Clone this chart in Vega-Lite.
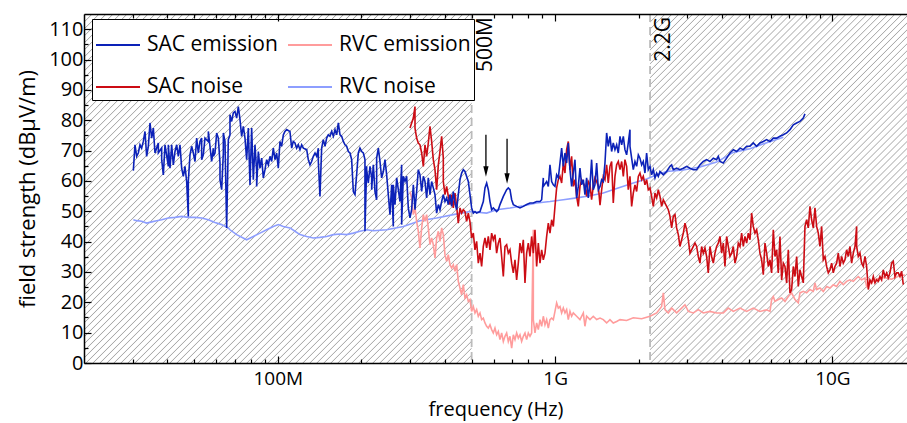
{
"$schema":"https://vega.github.io/schema/vega-lite/v6.json",
"width":823,"height":349,
"autosize":{"type":"none"},
"padding":{"left":84,"top":14,"right":0,"bottom":60},
"background":"white",
"config":{"view":{"stroke":null},"font":"Open Sans","axis":{"labelFont":"Open Sans","titleFont":"Open Sans"},"legend":{"labelFont":"Open Sans"},"text":{"font":"Open Sans"}},
"datasets":{
"regions":[{"name":"low","f1":2e7,"f2":5e8,"v1":0,"v2":115},{"name":"high","f1":2.2e9,"f2":1.858e10,"v1":0,"v2":115}],
"bounds":[{"f":5e8,"label":"500M"},{"f":2.2e9,"label":"2.2G"}],
"arrows":[{"f":5.63e8,"top":75.2,"bot":64.6,"tip":61.4},{"f":6.71e8,"top":73.9,"bot":62.4,"tip":59.1}],
"sacEm":[{"f":3.013e7,"v":63.4},{"f":3.054e7,"v":71.9},{"f":3.097e7,"v":68.1},{"f":3.140e7,"v":69.2},{"f":3.184e7,"v":71.9},{"f":3.228e7,"v":70.8},{"f":3.273e7,"v":73.0},{"f":3.319e7,"v":76.3},{"f":3.365e7,"v":68.1},{"f":3.412e7,"v":71.4},{"f":3.460e7,"v":79.1},{"f":3.508e7,"v":74.1},{"f":3.557e7,"v":77.4},{"f":3.606e7,"v":69.2},{"f":3.708e7,"v":72.5},{"f":3.708e7,"v":69.2},{"f":3.812e7,"v":70.8},{"f":3.812e7,"v":67.0},{"f":3.865e7,"v":62.0},{"f":3.919e7,"v":71.9},{"f":4.029e7,"v":64.8},{"f":4.029e7,"v":71.9},{"f":4.085e7,"v":64.2},{"f":4.142e7,"v":71.9},{"f":4.199e7,"v":65.3},{"f":4.258e7,"v":69.7},{"f":4.317e7,"v":71.9},{"f":4.377e7,"v":68.1},{"f":4.438e7,"v":71.9},{"f":4.500e7,"v":64.2},{"f":4.563e7,"v":61.5},{"f":4.626e7,"v":64.8},{"f":4.691e7,"v":59.8},{"f":4.756e7,"v":48.3},{"f":4.756e7,"v":59.8},{"f":4.823e7,"v":68.6},{"f":4.890e7,"v":71.4},{"f":4.958e7,"v":69.2},{"f":5.027e7,"v":66.4},{"f":5.097e7,"v":74.1},{"f":5.168e7,"v":69.2},{"f":5.240e7,"v":73.0},{"f":5.313e7,"v":74.1},{"f":5.313e7,"v":67.0},{"f":5.387e7,"v":68.6},{"f":5.462e7,"v":74.1},{"f":5.616e7,"v":73.0},{"f":5.616e7,"v":76.3},{"f":5.773e7,"v":66.4},{"f":5.854e7,"v":70.8},{"f":5.854e7,"v":68.1},{"f":5.935e7,"v":69.2},{"f":6.018e7,"v":75.8},{"f":6.102e7,"v":74.1},{"f":6.187e7,"v":65.9},{"f":6.187e7,"v":60.4},{"f":6.273e7,"v":57.1},{"f":6.361e7,"v":69.2},{"f":6.361e7,"v":75.8},{"f":6.449e7,"v":73.0},{"f":6.539e7,"v":44.5},{"f":6.630e7,"v":73.6},{"f":6.722e7,"v":75.2},{"f":6.722e7,"v":81.8},{"f":6.816e7,"v":79.6},{"f":6.911e7,"v":82.4},{"f":7.007e7,"v":82.9},{"f":7.105e7,"v":80.7},{"f":7.204e7,"v":84.5},{"f":7.305e7,"v":80.2},{"f":7.406e7,"v":74.7},{"f":7.509e7,"v":78.0},{"f":7.614e7,"v":74.1},{"f":7.720e7,"v":67.0},{"f":7.828e7,"v":77.4},{"f":7.937e7,"v":58.7},{"f":8.048e7,"v":77.4},{"f":8.160e7,"v":60.4},{"f":8.273e7,"v":71.9},{"f":8.389e7,"v":63.1},{"f":8.389e7,"v":58.2},{"f":8.506e7,"v":69.7},{"f":8.624e7,"v":64.2},{"f":8.744e7,"v":67.5},{"f":8.866e7,"v":61.0},{"f":8.990e7,"v":63.7},{"f":9.115e7,"v":67.0},{"f":9.242e7,"v":65.3},{"f":9.371e7,"v":68.1},{"f":9.501e7,"v":66.4},{"f":9.634e7,"v":70.8},{"f":9.768e7,"v":67.0},{"f":9.904e7,"v":69.2},{"f":1.004e8,"v":64.2},{"f":1.018e8,"v":73.0},{"f":1.032e8,"v":71.4},{"f":1.047e8,"v":75.2},{"f":1.061e8,"v":76.3},{"f":1.076e8,"v":76.9},{"f":1.106e8,"v":76.3},{"f":1.122e8,"v":70.8},{"f":1.137e8,"v":73.0},{"f":1.153e8,"v":72.5},{"f":1.169e8,"v":70.8},{"f":1.186e8,"v":71.9},{"f":1.202e8,"v":70.3},{"f":1.219e8,"v":71.9},{"f":1.236e8,"v":70.8},{"f":1.271e8,"v":70.3},{"f":1.288e8,"v":67.0},{"f":1.306e8,"v":65.3},{"f":1.324e8,"v":66.4},{"f":1.343e8,"v":68.1},{"f":1.362e8,"v":69.2},{"f":1.381e8,"v":68.1},{"f":1.400e8,"v":70.8},{"f":1.400e8,"v":66.4},{"f":1.419e8,"v":54.9},{"f":1.439e8,"v":70.8},{"f":1.459e8,"v":73.6},{"f":1.480e8,"v":71.4},{"f":1.500e8,"v":74.1},{"f":1.521e8,"v":75.2},{"f":1.542e8,"v":74.7},{"f":1.564e8,"v":76.3},{"f":1.586e8,"v":74.7},{"f":1.608e8,"v":76.9},{"f":1.630e8,"v":75.2},{"f":1.653e8,"v":79.1},{"f":1.676e8,"v":75.2},{"f":1.699e8,"v":74.7},{"f":1.723e8,"v":73.0},{"f":1.747e8,"v":71.9},{"f":1.771e8,"v":71.4},{"f":1.796e8,"v":69.7},{"f":1.821e8,"v":69.2},{"f":1.846e8,"v":67.0},{"f":1.872e8,"v":56.5},{"f":1.898e8,"v":55.5},{"f":1.924e8,"v":62.0},{"f":1.951e8,"v":69.2},{"f":1.978e8,"v":70.8},{"f":2.006e8,"v":69.7},{"f":2.034e8,"v":69.2},{"f":2.062e8,"v":67.0},{"f":2.062e8,"v":43.4},{"f":2.091e8,"v":64.8},{"f":2.091e8,"v":63.7},{"f":2.120e8,"v":59.3},{"f":2.150e8,"v":64.8},{"f":2.180e8,"v":61.0},{"f":2.180e8,"v":57.1},{"f":2.210e8,"v":65.3},{"f":2.241e8,"v":56.5},{"f":2.272e8,"v":53.8},{"f":2.272e8,"v":67.5},{"f":2.304e8,"v":70.8},{"f":2.336e8,"v":66.4},{"f":2.368e8,"v":61.0},{"f":2.402e8,"v":63.1},{"f":2.435e8,"v":67.0},{"f":2.469e8,"v":62.0},{"f":2.503e8,"v":55.5},{"f":2.538e8,"v":48.9},{"f":2.574e8,"v":58.7},{"f":2.609e8,"v":45.0},{"f":2.609e8,"v":58.7},{"f":2.646e8,"v":52.2},{"f":2.683e8,"v":61.0},{"f":2.758e8,"v":53.2},{"f":2.796e8,"v":65.3},{"f":2.796e8,"v":45.6},{"f":2.835e8,"v":61.5},{"f":2.875e8,"v":59.8},{"f":2.915e8,"v":61.5},{"f":2.955e8,"v":51.1},{"f":2.997e8,"v":47.8},{"f":3.038e8,"v":50.5},{"f":3.081e8,"v":58.7},{"f":3.124e8,"v":50.5},{"f":3.167e8,"v":56.5},{"f":3.211e8,"v":63.7},{"f":3.256e8,"v":62.0},{"f":3.302e8,"v":56.5},{"f":3.348e8,"v":61.5},{"f":3.394e8,"v":59.8},{"f":3.441e8,"v":54.4},{"f":3.489e8,"v":61.0},{"f":3.538e8,"v":55.5},{"f":3.587e8,"v":59.8},{"f":3.637e8,"v":57.7},{"f":3.688e8,"v":55.5},{"f":3.739e8,"v":49.4},{"f":3.792e8,"v":52.2},{"f":3.844e8,"v":50.5},{"f":3.898e8,"v":53.2},{"f":3.952e8,"v":55.5},{"f":4.007e8,"v":53.2},{"f":4.063e8,"v":54.4},{"f":4.120e8,"v":52.2},{"f":4.177e8,"v":55.5},{"f":4.235e8,"v":51.6},{"f":4.294e8,"v":56.5},{"f":4.354e8,"v":52.7},{"f":4.415e8,"v":50.5},{"f":4.476e8,"v":55.5},{"f":4.539e8,"v":60.4},{"f":4.602e8,"v":62.6},{"f":4.666e8,"v":63.7},{"f":4.731e8,"v":63.1},{"f":4.864e8,"v":59.8},{"f":4.932e8,"v":55.5},{"f":5.000e8,"v":51.1},{"f":5.070e8,"v":49.4},{"f":5.141e8,"v":49.9},{"f":5.212e8,"v":49.4},{"f":5.359e8,"v":49.9},{"f":5.509e8,"v":53.2},{"f":5.586e8,"v":57.7},{"f":5.664e8,"v":59.3},{"f":5.743e8,"v":57.1},{"f":5.823e8,"v":53.2},{"f":5.904e8,"v":50.5},{"f":5.986e8,"v":51.1},{"f":6.154e8,"v":49.9},{"f":6.240e8,"v":50.5},{"f":6.327e8,"v":52.2},{"f":6.505e8,"v":54.9},{"f":6.687e8,"v":57.1},{"f":6.780e8,"v":57.7},{"f":6.875e8,"v":57.1},{"f":6.971e8,"v":53.8},{"f":7.068e8,"v":52.2},{"f":7.266e8,"v":51.6},{"f":7.470e8,"v":51.1},{"f":7.680e8,"v":51.6},{"f":7.895e8,"v":52.2},{"f":8.117e8,"v":52.7},{"f":8.345e8,"v":52.7},{"f":8.579e8,"v":53.2},{"f":8.820e8,"v":53.2},{"f":8.943e8,"v":53.8},{"f":9.067e8,"v":61.0},{"f":9.067e8,"v":58.2},{"f":9.322e8,"v":59.8},{"f":9.452e8,"v":58.2},{"f":9.583e8,"v":65.3},{"f":9.717e8,"v":59.8},{"f":9.852e8,"v":58.7},{"f":9.989e8,"v":58.2},{"f":1.0128e9,"v":62.0},{"f":1.0270e9,"v":61.0},{"f":1.0413e9,"v":65.9},{"f":1.0558e9,"v":70.8},{"f":1.0705e9,"v":64.8},{"f":1.0854e9,"v":69.2},{"f":1.1005e9,"v":65.9},{"f":1.1158e9,"v":72.5},{"f":1.1314e9,"v":63.7},{"f":1.1471e9,"v":58.2},{"f":1.1631e9,"v":62.6},{"f":1.1793e9,"v":67.0},{"f":1.1958e9,"v":54.4},{"f":1.2124e9,"v":58.2},{"f":1.2293e9,"v":64.2},{"f":1.2465e9,"v":58.7},{"f":1.264e9,"v":60.4},{"f":1.281e9,"v":55.5},{"f":1.299e9,"v":61.0},{"f":1.317e9,"v":54.4},{"f":1.336e9,"v":58.7},{"f":1.354e9,"v":67.0},{"f":1.373e9,"v":57.1},{"f":1.392e9,"v":58.7},{"f":1.412e9,"v":65.9},{"f":1.432e9,"v":57.1},{"f":1.452e9,"v":58.2},{"f":1.472e9,"v":60.4},{"f":1.492e9,"v":59.8},{"f":1.513e9,"v":65.9},{"f":1.534e9,"v":75.8},{"f":1.555e9,"v":71.4},{"f":1.577e9,"v":74.7},{"f":1.599e9,"v":69.7},{"f":1.621e9,"v":72.5},{"f":1.644e9,"v":70.3},{"f":1.667e9,"v":71.9},{"f":1.690e9,"v":69.2},{"f":1.714e9,"v":74.7},{"f":1.738e9,"v":71.9},{"f":1.762e9,"v":74.7},{"f":1.786e9,"v":70.3},{"f":1.811e9,"v":68.6},{"f":1.836e9,"v":72.5},{"f":1.862e9,"v":76.9},{"f":1.862e9,"v":71.4},{"f":1.888e9,"v":67.5},{"f":1.914e9,"v":63.7},{"f":1.941e9,"v":66.4},{"f":1.968e9,"v":64.8},{"f":1.996e9,"v":68.6},{"f":2.023e9,"v":67.5},{"f":2.052e9,"v":65.3},{"f":2.080e9,"v":66.4},{"f":2.109e9,"v":62.6},{"f":2.138e9,"v":69.2},{"f":2.168e9,"v":63.7},{"f":2.199e9,"v":64.8},{"f":2.229e9,"v":62.0},{"f":2.260e9,"v":63.7},{"f":2.292e9,"v":61.0},{"f":2.324e9,"v":62.6},{"f":2.356e9,"v":61.5},{"f":2.389e9,"v":63.1},{"f":2.456e9,"v":62.0},{"f":2.525e9,"v":63.1},{"f":2.596e9,"v":64.8},{"f":2.632e9,"v":65.3},{"f":2.668e9,"v":63.7},{"f":2.743e9,"v":64.2},{"f":2.820e9,"v":63.7},{"f":2.900e9,"v":64.2},{"f":2.981e9,"v":64.8},{"f":3.065e9,"v":64.2},{"f":3.151e9,"v":63.7},{"f":3.239e9,"v":63.7},{"f":3.330e9,"v":65.3},{"f":3.423e9,"v":66.4},{"f":3.519e9,"v":67.0},{"f":3.618e9,"v":66.4},{"f":3.720e9,"v":67.5},{"f":3.824e9,"v":67.0},{"f":3.877e9,"v":68.1},{"f":3.932e9,"v":66.4},{"f":4.042e9,"v":65.9},{"f":4.155e9,"v":67.5},{"f":4.272e9,"v":69.2},{"f":4.392e9,"v":70.3},{"f":4.515e9,"v":69.7},{"f":4.642e9,"v":70.8},{"f":4.772e9,"v":70.3},{"f":4.906e9,"v":71.4},{"f":5.044e9,"v":71.4},{"f":5.185e9,"v":72.5},{"f":5.331e9,"v":71.4},{"f":5.480e9,"v":72.5},{"f":5.634e9,"v":73.0},{"f":5.792e9,"v":73.6},{"f":5.955e9,"v":73.0},{"f":6.122e9,"v":74.1},{"f":6.294e9,"v":74.1},{"f":6.470e9,"v":74.7},{"f":6.652e9,"v":75.2},{"f":6.839e9,"v":75.8},{"f":7.031e9,"v":76.9},{"f":7.228e9,"v":78.5},{"f":7.431e9,"v":79.1},{"f":7.639e9,"v":79.6},{"f":7.854e9,"v":80.7},{"f":7.963e9,"v":82.1}],
"rvcNo":[{"f":3.013e7,"v":47.2},{"f":3.097e7,"v":46.9},{"f":3.228e7,"v":46.7},{"f":3.365e7,"v":46.1},{"f":3.508e7,"v":46.5},{"f":3.657e7,"v":46.9},{"f":3.812e7,"v":47.2},{"f":4.029e7,"v":47.8},{"f":4.258e7,"v":48.0},{"f":4.500e7,"v":48.3},{"f":4.756e7,"v":48.0},{"f":5.027e7,"v":48.0},{"f":5.313e7,"v":47.8},{"f":5.616e7,"v":47.2},{"f":5.935e7,"v":46.3},{"f":6.273e7,"v":45.6},{"f":6.630e7,"v":44.5},{"f":6.722e7,"v":43.9},{"f":7.105e7,"v":42.3},{"f":7.720e7,"v":40.6},{"f":8.160e7,"v":41.7},{"f":8.624e7,"v":42.8},{"f":9.115e7,"v":43.9},{"f":9.634e7,"v":45.0},{"f":1.004e8,"v":45.6},{"f":1.047e8,"v":45.0},{"f":1.106e8,"v":44.5},{"f":1.153e8,"v":43.4},{"f":1.202e8,"v":42.3},{"f":1.271e8,"v":41.7},{"f":1.343e8,"v":41.2},{"f":1.419e8,"v":41.4},{"f":1.500e8,"v":41.7},{"f":1.586e8,"v":42.3},{"f":1.676e8,"v":42.5},{"f":1.771e8,"v":42.3},{"f":1.872e8,"v":42.8},{"f":1.978e8,"v":43.4},{"f":2.091e8,"v":43.9},{"f":2.210e8,"v":43.6},{"f":2.469e8,"v":43.9},{"f":2.835e8,"v":45.0},{"f":3.256e8,"v":46.9},{"f":3.739e8,"v":47.8},{"f":4.294e8,"v":48.9},{"f":4.932e8,"v":49.9},{"f":5.664e8,"v":49.4},{"f":6.154e8,"v":50.5},{"f":6.875e8,"v":51.1},{"f":7.680e8,"v":51.8},{"f":8.579e8,"v":52.7},{"f":9.583e8,"v":53.2},{"f":1.0705e9,"v":53.8},{"f":1.1958e9,"v":54.4},{"f":1.336e9,"v":55.1},{"f":1.492e9,"v":56.0},{"f":1.667e9,"v":57.5},{"f":1.914e9,"v":59.3},{"f":2.138e9,"v":60.6},{"f":2.324e9,"v":62.0},{"f":2.525e9,"v":63.1},{"f":2.900e9,"v":63.6},{"f":3.330e9,"v":64.6},{"f":3.824e9,"v":66.2},{"f":4.392e9,"v":69.4},{"f":5.044e9,"v":70.6},{"f":5.792e9,"v":72.6},{"f":6.652e9,"v":74.4}],
"sacNo":[{"f":2.997e8,"v":77.4},{"f":3.081e8,"v":80.7},{"f":3.124e8,"v":84.5},{"f":3.124e8,"v":77.4},{"f":3.167e8,"v":74.1},{"f":3.211e8,"v":72.5},{"f":3.256e8,"v":71.9},{"f":3.302e8,"v":69.2},{"f":3.348e8,"v":64.8},{"f":3.394e8,"v":71.9},{"f":3.441e8,"v":68.1},{"f":3.489e8,"v":72.5},{"f":3.538e8,"v":78.0},{"f":3.587e8,"v":73.0},{"f":3.637e8,"v":67.0},{"f":3.688e8,"v":63.7},{"f":3.739e8,"v":57.1},{"f":3.792e8,"v":65.3},{"f":3.844e8,"v":69.7},{"f":3.898e8,"v":74.7},{"f":3.952e8,"v":67.5},{"f":3.952e8,"v":59.8},{"f":4.007e8,"v":55.5},{"f":4.063e8,"v":58.2},{"f":4.120e8,"v":54.9},{"f":4.177e8,"v":52.2},{"f":4.235e8,"v":55.5},{"f":4.294e8,"v":51.1},{"f":4.354e8,"v":56.0},{"f":4.415e8,"v":51.6},{"f":4.476e8,"v":46.1},{"f":4.539e8,"v":51.1},{"f":4.602e8,"v":49.4},{"f":4.666e8,"v":50.5},{"f":4.731e8,"v":49.9},{"f":4.797e8,"v":46.7},{"f":4.864e8,"v":49.4},{"f":4.932e8,"v":46.5},{"f":5.000e8,"v":41.2},{"f":5.070e8,"v":42.8},{"f":5.141e8,"v":37.3},{"f":5.212e8,"v":40.1},{"f":5.285e8,"v":32.9},{"f":5.359e8,"v":36.2},{"f":5.433e8,"v":31.8},{"f":5.509e8,"v":38.4},{"f":5.586e8,"v":41.2},{"f":5.664e8,"v":37.9},{"f":5.743e8,"v":41.7},{"f":5.823e8,"v":37.3},{"f":5.904e8,"v":42.8},{"f":5.986e8,"v":40.6},{"f":6.069e8,"v":42.3},{"f":6.154e8,"v":36.2},{"f":6.240e8,"v":39.5},{"f":6.327e8,"v":41.2},{"f":6.415e8,"v":35.1},{"f":6.505e8,"v":28.5},{"f":6.595e8,"v":38.4},{"f":6.687e8,"v":39.0},{"f":6.780e8,"v":36.2},{"f":6.875e8,"v":37.3},{"f":6.971e8,"v":32.9},{"f":7.068e8,"v":29.7},{"f":7.166e8,"v":34.0},{"f":7.266e8,"v":27.4},{"f":7.367e8,"v":32.9},{"f":7.470e8,"v":39.5},{"f":7.574e8,"v":36.2},{"f":7.680e8,"v":40.6},{"f":7.787e8,"v":26.4},{"f":7.895e8,"v":36.2},{"f":8.005e8,"v":39.5},{"f":8.117e8,"v":35.1},{"f":8.230e8,"v":41.7},{"f":8.345e8,"v":36.2},{"f":8.461e8,"v":43.9},{"f":8.579e8,"v":31.8},{"f":8.699e8,"v":39.5},{"f":8.820e8,"v":32.9},{"f":8.943e8,"v":37.3},{"f":9.067e8,"v":34.0},{"f":9.194e8,"v":36.2},{"f":9.322e8,"v":41.7},{"f":9.452e8,"v":46.1},{"f":9.583e8,"v":42.8},{"f":9.717e8,"v":47.2},{"f":9.852e8,"v":45.0},{"f":9.989e8,"v":51.6},{"f":1.0128e9,"v":57.7},{"f":1.0270e9,"v":60.4},{"f":1.0413e9,"v":61.5},{"f":1.0558e9,"v":59.3},{"f":1.0705e9,"v":65.9},{"f":1.0854e9,"v":62.6},{"f":1.1005e9,"v":70.3},{"f":1.1158e9,"v":73.0},{"f":1.1314e9,"v":63.7},{"f":1.1471e9,"v":68.1},{"f":1.1631e9,"v":58.2},{"f":1.1793e9,"v":60.4},{"f":1.1958e9,"v":54.9},{"f":1.2124e9,"v":51.6},{"f":1.2293e9,"v":58.2},{"f":1.2465e9,"v":60.4},{"f":1.264e9,"v":59.3},{"f":1.281e9,"v":58.2},{"f":1.299e9,"v":54.9},{"f":1.317e9,"v":59.8},{"f":1.336e9,"v":58.7},{"f":1.354e9,"v":53.8},{"f":1.373e9,"v":58.2},{"f":1.392e9,"v":61.0},{"f":1.412e9,"v":59.8},{"f":1.432e9,"v":58.2},{"f":1.452e9,"v":52.0},{"f":1.472e9,"v":57.1},{"f":1.492e9,"v":61.5},{"f":1.513e9,"v":60.4},{"f":1.534e9,"v":65.3},{"f":1.555e9,"v":59.3},{"f":1.577e9,"v":64.8},{"f":1.599e9,"v":66.4},{"f":1.621e9,"v":52.7},{"f":1.644e9,"v":61.5},{"f":1.667e9,"v":65.3},{"f":1.690e9,"v":66.4},{"f":1.714e9,"v":63.7},{"f":1.738e9,"v":66.4},{"f":1.762e9,"v":61.5},{"f":1.786e9,"v":67.0},{"f":1.811e9,"v":64.8},{"f":1.836e9,"v":57.1},{"f":1.862e9,"v":61.5},{"f":1.888e9,"v":51.6},{"f":1.914e9,"v":56.0},{"f":1.941e9,"v":58.7},{"f":1.968e9,"v":56.5},{"f":1.996e9,"v":61.5},{"f":2.023e9,"v":62.6},{"f":2.052e9,"v":60.4},{"f":2.080e9,"v":61.5},{"f":2.109e9,"v":58.7},{"f":2.138e9,"v":60.4},{"f":2.168e9,"v":57.1},{"f":2.199e9,"v":57.7},{"f":2.229e9,"v":54.9},{"f":2.260e9,"v":51.6},{"f":2.292e9,"v":56.0},{"f":2.324e9,"v":54.4},{"f":2.356e9,"v":57.1},{"f":2.389e9,"v":54.9},{"f":2.422e9,"v":51.6},{"f":2.456e9,"v":53.8},{"f":2.490e9,"v":52.7},{"f":2.525e9,"v":51.6},{"f":2.560e9,"v":50.5},{"f":2.596e9,"v":48.3},{"f":2.632e9,"v":44.5},{"f":2.668e9,"v":48.3},{"f":2.706e9,"v":48.9},{"f":2.743e9,"v":44.5},{"f":2.782e9,"v":42.3},{"f":2.820e9,"v":38.4},{"f":2.860e9,"v":40.6},{"f":2.900e9,"v":42.8},{"f":2.940e9,"v":46.1},{"f":2.981e9,"v":43.9},{"f":3.023e9,"v":40.6},{"f":3.065e9,"v":36.2},{"f":3.107e9,"v":37.3},{"f":3.151e9,"v":38.4},{"f":3.195e9,"v":39.5},{"f":3.239e9,"v":38.4},{"f":3.284e9,"v":35.1},{"f":3.330e9,"v":32.9},{"f":3.376e9,"v":38.4},{"f":3.423e9,"v":36.2},{"f":3.471e9,"v":37.9},{"f":3.519e9,"v":35.1},{"f":3.568e9,"v":29.7},{"f":3.618e9,"v":38.4},{"f":3.669e9,"v":35.1},{"f":3.720e9,"v":32.9},{"f":3.772e9,"v":36.2},{"f":3.824e9,"v":38.4},{"f":3.877e9,"v":39.5},{"f":3.932e9,"v":41.7},{"f":3.986e9,"v":36.2},{"f":4.042e9,"v":39.5},{"f":4.098e9,"v":31.8},{"f":4.155e9,"v":41.7},{"f":4.213e9,"v":38.4},{"f":4.272e9,"v":35.1},{"f":4.331e9,"v":36.2},{"f":4.392e9,"v":38.4},{"f":4.453e9,"v":32.9},{"f":4.515e9,"v":35.1},{"f":4.578e9,"v":39.5},{"f":4.642e9,"v":38.4},{"f":4.706e9,"v":42.8},{"f":4.772e9,"v":38.4},{"f":4.838e9,"v":41.7},{"f":4.906e9,"v":39.5},{"f":4.974e9,"v":42.8},{"f":5.044e9,"v":40.6},{"f":5.114e9,"v":49.4},{"f":5.185e9,"v":45.0},{"f":5.257e9,"v":42.8},{"f":5.331e9,"v":43.9},{"f":5.405e9,"v":40.6},{"f":5.480e9,"v":36.2},{"f":5.557e9,"v":34.0},{"f":5.634e9,"v":29.1},{"f":5.713e9,"v":39.5},{"f":5.792e9,"v":36.2},{"f":5.873e9,"v":31.8},{"f":5.955e9,"v":34.0},{"f":6.038e9,"v":29.7},{"f":6.122e9,"v":43.9},{"f":6.207e9,"v":35.1},{"f":6.294e9,"v":37.3},{"f":6.381e9,"v":29.7},{"f":6.470e9,"v":41.7},{"f":6.561e9,"v":27.4},{"f":6.652e9,"v":32.9},{"f":6.745e9,"v":31.8},{"f":6.839e9,"v":26.4},{"f":6.934e9,"v":37.3},{"f":7.031e9,"v":23.1},{"f":7.129e9,"v":24.2},{"f":7.228e9,"v":31.8},{"f":7.329e9,"v":28.5},{"f":7.431e9,"v":35.1},{"f":7.534e9,"v":25.2},{"f":7.639e9,"v":30.7},{"f":7.746e9,"v":28.5},{"f":7.854e9,"v":26.4},{"f":7.963e9,"v":45.0},{"f":8.074e9,"v":47.2},{"f":8.187e9,"v":44.5},{"f":8.301e9,"v":51.6},{"f":8.416e9,"v":47.2},{"f":8.533e9,"v":44.5},{"f":8.652e9,"v":51.1},{"f":8.773e9,"v":45.0},{"f":8.895e9,"v":42.8},{"f":9.019e9,"v":38.4},{"f":9.145e9,"v":45.0},{"f":9.272e9,"v":34.0},{"f":9.402e9,"v":35.1},{"f":9.533e9,"v":31.8},{"f":9.665e9,"v":29.7},{"f":9.800e9,"v":30.7},{"f":9.937e9,"v":32.9},{"f":1.0075e10,"v":29.7},{"f":1.0215e10,"v":31.8},{"f":1.0358e10,"v":32.9},{"f":1.0502e10,"v":36.2},{"f":1.0648e10,"v":31.8},{"f":1.0797e10,"v":35.1},{"f":1.0947e10,"v":32.9},{"f":1.1100e10,"v":34.0},{"f":1.1254e10,"v":37.3},{"f":1.1411e10,"v":35.1},{"f":1.1571e10,"v":38.4},{"f":1.1732e10,"v":32.9},{"f":1.1896e10,"v":36.2},{"f":1.2062e10,"v":38.4},{"f":1.2230e10,"v":45.0},{"f":1.2230e10,"v":38.4},{"f":1.2400e10,"v":35.1},{"f":1.2573e10,"v":36.2},{"f":1.2748e10,"v":32.9},{"f":1.2925e10,"v":31.8},{"f":1.3106e10,"v":35.1},{"f":1.3288e10,"v":31.8},{"f":1.3473e10,"v":24.2},{"f":1.3661e10,"v":27.4},{"f":1.3852e10,"v":26.4},{"f":1.4045e10,"v":28.5},{"f":1.4240e10,"v":26.4},{"f":1.4439e10,"v":27.4},{"f":1.4640e10,"v":26.9},{"f":1.4844e10,"v":28.5},{"f":1.5051e10,"v":27.4},{"f":1.5260e10,"v":30.7},{"f":1.5473e10,"v":28.5},{"f":1.5688e10,"v":29.7},{"f":1.5907e10,"v":28.0},{"f":1.6129e10,"v":29.7},{"f":1.6353e10,"v":32.9},{"f":1.6581e10,"v":33.5},{"f":1.6812e10,"v":28.5},{"f":1.7046e10,"v":29.7},{"f":1.7284e10,"v":29.7},{"f":1.7525e10,"v":28.5},{"f":1.7769e10,"v":30.2},{"f":1.8017e10,"v":25.8}],
"rvcEm":[{"f":2.997e8,"v":56.5},{"f":3.038e8,"v":54.4},{"f":3.081e8,"v":48.9},{"f":3.124e8,"v":51.1},{"f":3.167e8,"v":46.7},{"f":3.211e8,"v":43.4},{"f":3.256e8,"v":37.9},{"f":3.302e8,"v":44.5},{"f":3.348e8,"v":48.9},{"f":3.394e8,"v":46.7},{"f":3.441e8,"v":48.9},{"f":3.489e8,"v":44.5},{"f":3.538e8,"v":39.0},{"f":3.587e8,"v":41.2},{"f":3.637e8,"v":39.0},{"f":3.688e8,"v":34.6},{"f":3.739e8,"v":41.2},{"f":3.792e8,"v":43.4},{"f":3.844e8,"v":40.1},{"f":3.898e8,"v":44.5},{"f":3.952e8,"v":42.3},{"f":4.007e8,"v":35.7},{"f":4.063e8,"v":33.5},{"f":4.120e8,"v":35.7},{"f":4.177e8,"v":32.4},{"f":4.235e8,"v":31.3},{"f":4.294e8,"v":32.4},{"f":4.354e8,"v":30.2},{"f":4.415e8,"v":32.4},{"f":4.476e8,"v":26.9},{"f":4.539e8,"v":24.7},{"f":4.602e8,"v":22.5},{"f":4.666e8,"v":25.8},{"f":4.731e8,"v":21.4},{"f":4.797e8,"v":22.5},{"f":4.864e8,"v":20.3},{"f":4.932e8,"v":20.9},{"f":5.000e8,"v":17.0},{"f":5.070e8,"v":18.6},{"f":5.141e8,"v":16.5},{"f":5.212e8,"v":17.6},{"f":5.285e8,"v":15.4},{"f":5.359e8,"v":16.5},{"f":5.433e8,"v":14.3},{"f":5.509e8,"v":14.8},{"f":5.586e8,"v":13.2},{"f":5.664e8,"v":12.1},{"f":5.743e8,"v":11.5},{"f":5.823e8,"v":12.6},{"f":5.904e8,"v":11.0},{"f":5.986e8,"v":9.9},{"f":6.069e8,"v":11.5},{"f":6.154e8,"v":9.3},{"f":6.240e8,"v":10.4},{"f":6.327e8,"v":7.7},{"f":6.415e8,"v":9.9},{"f":6.505e8,"v":7.1},{"f":6.595e8,"v":8.8},{"f":6.687e8,"v":9.9},{"f":6.780e8,"v":7.1},{"f":6.875e8,"v":8.8},{"f":6.971e8,"v":4.9},{"f":7.068e8,"v":9.3},{"f":7.166e8,"v":7.7},{"f":7.266e8,"v":9.9},{"f":7.367e8,"v":8.2},{"f":7.470e8,"v":9.3},{"f":7.574e8,"v":7.1},{"f":7.680e8,"v":8.8},{"f":7.787e8,"v":9.9},{"f":7.895e8,"v":7.7},{"f":8.005e8,"v":9.9},{"f":8.117e8,"v":8.8},{"f":8.230e8,"v":9.9},{"f":8.345e8,"v":43.9},{"f":8.345e8,"v":14.3},{"f":8.461e8,"v":9.9},{"f":8.579e8,"v":13.2},{"f":8.699e8,"v":11.0},{"f":8.820e8,"v":14.3},{"f":8.943e8,"v":12.1},{"f":9.067e8,"v":15.4},{"f":9.194e8,"v":12.6},{"f":9.322e8,"v":14.3},{"f":9.452e8,"v":11.5},{"f":9.583e8,"v":14.3},{"f":9.717e8,"v":14.8},{"f":9.852e8,"v":14.3},{"f":9.989e8,"v":17.0},{"f":1.0128e9,"v":19.8},{"f":1.0270e9,"v":18.1},{"f":1.0413e9,"v":18.6},{"f":1.0558e9,"v":16.5},{"f":1.0705e9,"v":18.1},{"f":1.0854e9,"v":16.5},{"f":1.1005e9,"v":17.6},{"f":1.1158e9,"v":14.3},{"f":1.1314e9,"v":17.0},{"f":1.1471e9,"v":15.4},{"f":1.1631e9,"v":16.5},{"f":1.1958e9,"v":15.4},{"f":1.2293e9,"v":14.3},{"f":1.264e9,"v":16.5},{"f":1.281e9,"v":12.1},{"f":1.299e9,"v":15.4},{"f":1.336e9,"v":14.3},{"f":1.373e9,"v":15.4},{"f":1.412e9,"v":14.3},{"f":1.452e9,"v":14.8},{"f":1.492e9,"v":14.3},{"f":1.534e9,"v":13.2},{"f":1.577e9,"v":14.3},{"f":1.621e9,"v":13.2},{"f":1.667e9,"v":13.7},{"f":1.714e9,"v":14.3},{"f":1.811e9,"v":14.0},{"f":1.914e9,"v":14.9},{"f":2.052e9,"v":14.6},{"f":2.199e9,"v":15.4},{"f":2.324e9,"v":16.5},{"f":2.422e9,"v":18.6},{"f":2.456e9,"v":23.1},{"f":2.490e9,"v":17.6},{"f":2.560e9,"v":16.5},{"f":2.632e9,"v":18.1},{"f":2.743e9,"v":16.5},{"f":2.860e9,"v":18.1},{"f":2.940e9,"v":19.2},{"f":3.023e9,"v":17.0},{"f":3.151e9,"v":16.5},{"f":3.284e9,"v":17.6},{"f":3.423e9,"v":16.5},{"f":3.618e9,"v":17.0},{"f":3.824e9,"v":16.5},{"f":4.042e9,"v":16.5},{"f":4.213e9,"v":18.1},{"f":4.392e9,"v":17.0},{"f":4.642e9,"v":18.1},{"f":4.906e9,"v":17.0},{"f":5.185e9,"v":18.1},{"f":5.480e9,"v":17.0},{"f":5.792e9,"v":17.5},{"f":5.955e9,"v":17.0},{"f":6.038e9,"v":20.9},{"f":6.122e9,"v":21.9},{"f":6.207e9,"v":20.3},{"f":6.381e9,"v":20.9},{"f":6.561e9,"v":21.4},{"f":6.745e9,"v":20.3},{"f":6.934e9,"v":21.9},{"f":7.129e9,"v":23.1},{"f":7.329e9,"v":20.9},{"f":7.534e9,"v":19.8},{"f":7.639e9,"v":23.1},{"f":7.854e9,"v":23.6},{"f":8.074e9,"v":23.1},{"f":8.301e9,"v":24.2},{"f":8.533e9,"v":23.6},{"f":8.652e9,"v":26.4},{"f":8.773e9,"v":24.2},{"f":9.019e9,"v":24.7},{"f":9.272e9,"v":23.6},{"f":9.533e9,"v":25.2},{"f":9.800e9,"v":24.7},{"f":1.0075e10,"v":25.8},{"f":1.0358e10,"v":25.2},{"f":1.0648e10,"v":26.9},{"f":1.0947e10,"v":25.8},{"f":1.1254e10,"v":26.9},{"f":1.1571e10,"v":27.4},{"f":1.1896e10,"v":26.9},{"f":1.2230e10,"v":28.0},{"f":1.2400e10,"v":28.5},{"f":1.2748e10,"v":27.4},{"f":1.3106e10,"v":28.0},{"f":1.3288e10,"v":25.2},{"f":1.4240e10,"v":27.5},{"f":1.5260e10,"v":28.2},{"f":1.6353e10,"v":27.6},{"f":1.7525e10,"v":28.8},{"f":1.8268e10,"v":29.0}]
},
"layer":[
{"data":{"name":"regions"},"transform":[{"filter":"datum.name=='low'"}],
 "mark":{"type":"rect","fill":{"gradient":"linear","x1":0,"y1":0,"x2":1.0495,"y2":0.945,"stops":[{"offset":0,"color":"#fff"},{"offset":0.0015,"color":"#aaa"},{"offset":0.003,"color":"#fff"},{"offset":0.0095,"color":"#fff"},{"offset":0.011,"color":"#aaa"},{"offset":0.0125,"color":"#fff"},{"offset":0.019,"color":"#fff"},{"offset":0.0205,"color":"#aaa"},{"offset":0.022,"color":"#fff"},{"offset":0.0285,"color":"#fff"},{"offset":0.03,"color":"#aaa"},{"offset":0.0315,"color":"#fff"},{"offset":0.038,"color":"#fff"},{"offset":0.0395,"color":"#aaa"},{"offset":0.041,"color":"#fff"},{"offset":0.0475,"color":"#fff"},{"offset":0.049,"color":"#aaa"},{"offset":0.0505,"color":"#fff"},{"offset":0.057,"color":"#fff"},{"offset":0.0585,"color":"#aaa"},{"offset":0.06,"color":"#fff"},{"offset":0.0665,"color":"#fff"},{"offset":0.068,"color":"#aaa"},{"offset":0.0695,"color":"#fff"},{"offset":0.076,"color":"#fff"},{"offset":0.0775,"color":"#aaa"},{"offset":0.079,"color":"#fff"},{"offset":0.0855,"color":"#fff"},{"offset":0.087,"color":"#aaa"},{"offset":0.0885,"color":"#fff"},{"offset":0.095,"color":"#fff"},{"offset":0.0965,"color":"#aaa"},{"offset":0.098,"color":"#fff"},{"offset":0.1045,"color":"#fff"},{"offset":0.106,"color":"#aaa"},{"offset":0.1075,"color":"#fff"},{"offset":0.114,"color":"#fff"},{"offset":0.1155,"color":"#aaa"},{"offset":0.117,"color":"#fff"},{"offset":0.1235,"color":"#fff"},{"offset":0.125,"color":"#aaa"},{"offset":0.1265,"color":"#fff"},{"offset":0.133,"color":"#fff"},{"offset":0.1345,"color":"#aaa"},{"offset":0.136,"color":"#fff"},{"offset":0.1425,"color":"#fff"},{"offset":0.144,"color":"#aaa"},{"offset":0.1455,"color":"#fff"},{"offset":0.152,"color":"#fff"},{"offset":0.1535,"color":"#aaa"},{"offset":0.155,"color":"#fff"},{"offset":0.1615,"color":"#fff"},{"offset":0.163,"color":"#aaa"},{"offset":0.1645,"color":"#fff"},{"offset":0.171,"color":"#fff"},{"offset":0.1725,"color":"#aaa"},{"offset":0.174,"color":"#fff"},{"offset":0.1805,"color":"#fff"},{"offset":0.182,"color":"#aaa"},{"offset":0.1835,"color":"#fff"},{"offset":0.19,"color":"#fff"},{"offset":0.1915,"color":"#aaa"},{"offset":0.193,"color":"#fff"},{"offset":0.1995,"color":"#fff"},{"offset":0.201,"color":"#aaa"},{"offset":0.2025,"color":"#fff"},{"offset":0.209,"color":"#fff"},{"offset":0.2105,"color":"#aaa"},{"offset":0.212,"color":"#fff"},{"offset":0.2185,"color":"#fff"},{"offset":0.22,"color":"#aaa"},{"offset":0.2215,"color":"#fff"},{"offset":0.228,"color":"#fff"},{"offset":0.2295,"color":"#aaa"},{"offset":0.231,"color":"#fff"},{"offset":0.2375,"color":"#fff"},{"offset":0.239,"color":"#aaa"},{"offset":0.2405,"color":"#fff"},{"offset":0.247,"color":"#fff"},{"offset":0.2485,"color":"#aaa"},{"offset":0.25,"color":"#fff"},{"offset":0.2565,"color":"#fff"},{"offset":0.258,"color":"#aaa"},{"offset":0.2595,"color":"#fff"},{"offset":0.266,"color":"#fff"},{"offset":0.2675,"color":"#aaa"},{"offset":0.269,"color":"#fff"},{"offset":0.2755,"color":"#fff"},{"offset":0.277,"color":"#aaa"},{"offset":0.2785,"color":"#fff"},{"offset":0.285,"color":"#fff"},{"offset":0.2865,"color":"#aaa"},{"offset":0.288,"color":"#fff"},{"offset":0.2945,"color":"#fff"},{"offset":0.296,"color":"#aaa"},{"offset":0.2975,"color":"#fff"},{"offset":0.304,"color":"#fff"},{"offset":0.3055,"color":"#aaa"},{"offset":0.307,"color":"#fff"},{"offset":0.3135,"color":"#fff"},{"offset":0.315,"color":"#aaa"},{"offset":0.3165,"color":"#fff"},{"offset":0.323,"color":"#fff"},{"offset":0.3245,"color":"#aaa"},{"offset":0.326,"color":"#fff"},{"offset":0.3325,"color":"#fff"},{"offset":0.334,"color":"#aaa"},{"offset":0.3355,"color":"#fff"},{"offset":0.342,"color":"#fff"},{"offset":0.3435,"color":"#aaa"},{"offset":0.345,"color":"#fff"},{"offset":0.3515,"color":"#fff"},{"offset":0.353,"color":"#aaa"},{"offset":0.3545,"color":"#fff"},{"offset":0.361,"color":"#fff"},{"offset":0.3625,"color":"#aaa"},{"offset":0.364,"color":"#fff"},{"offset":0.3705,"color":"#fff"},{"offset":0.372,"color":"#aaa"},{"offset":0.3735,"color":"#fff"},{"offset":0.38,"color":"#fff"},{"offset":0.3815,"color":"#aaa"},{"offset":0.383,"color":"#fff"},{"offset":0.3895,"color":"#fff"},{"offset":0.391,"color":"#aaa"},{"offset":0.3925,"color":"#fff"},{"offset":0.399,"color":"#fff"},{"offset":0.4005,"color":"#aaa"},{"offset":0.402,"color":"#fff"},{"offset":0.4085,"color":"#fff"},{"offset":0.41,"color":"#aaa"},{"offset":0.4115,"color":"#fff"},{"offset":0.418,"color":"#fff"},{"offset":0.4195,"color":"#aaa"},{"offset":0.421,"color":"#fff"},{"offset":0.4275,"color":"#fff"},{"offset":0.429,"color":"#aaa"},{"offset":0.4305,"color":"#fff"},{"offset":0.437,"color":"#fff"},{"offset":0.4385,"color":"#aaa"},{"offset":0.44,"color":"#fff"},{"offset":0.4465,"color":"#fff"},{"offset":0.448,"color":"#aaa"},{"offset":0.4495,"color":"#fff"},{"offset":0.456,"color":"#fff"},{"offset":0.4575,"color":"#aaa"},{"offset":0.459,"color":"#fff"},{"offset":0.4655,"color":"#fff"},{"offset":0.467,"color":"#aaa"},{"offset":0.4685,"color":"#fff"},{"offset":0.475,"color":"#fff"},{"offset":0.4765,"color":"#aaa"},{"offset":0.478,"color":"#fff"},{"offset":0.4845,"color":"#fff"},{"offset":0.486,"color":"#aaa"},{"offset":0.4875,"color":"#fff"},{"offset":0.494,"color":"#fff"},{"offset":0.4955,"color":"#aaa"},{"offset":0.497,"color":"#fff"},{"offset":0.5035,"color":"#fff"},{"offset":0.505,"color":"#aaa"},{"offset":0.5065,"color":"#fff"},{"offset":0.513,"color":"#fff"},{"offset":0.5145,"color":"#aaa"},{"offset":0.516,"color":"#fff"},{"offset":0.5225,"color":"#fff"},{"offset":0.524,"color":"#aaa"},{"offset":0.5255,"color":"#fff"},{"offset":0.532,"color":"#fff"},{"offset":0.5335,"color":"#aaa"},{"offset":0.535,"color":"#fff"},{"offset":0.5415,"color":"#fff"},{"offset":0.543,"color":"#aaa"},{"offset":0.5445,"color":"#fff"},{"offset":0.551,"color":"#fff"},{"offset":0.5525,"color":"#aaa"},{"offset":0.554,"color":"#fff"},{"offset":0.5605,"color":"#fff"},{"offset":0.562,"color":"#aaa"},{"offset":0.5635,"color":"#fff"},{"offset":0.57,"color":"#fff"},{"offset":0.5715,"color":"#aaa"},{"offset":0.573,"color":"#fff"},{"offset":0.5795,"color":"#fff"},{"offset":0.581,"color":"#aaa"},{"offset":0.5825,"color":"#fff"},{"offset":0.589,"color":"#fff"},{"offset":0.5905,"color":"#aaa"},{"offset":0.592,"color":"#fff"},{"offset":0.5985,"color":"#fff"},{"offset":0.6,"color":"#aaa"},{"offset":0.6015,"color":"#fff"},{"offset":0.608,"color":"#fff"},{"offset":0.6095,"color":"#aaa"},{"offset":0.611,"color":"#fff"},{"offset":0.6175,"color":"#fff"},{"offset":0.619,"color":"#aaa"},{"offset":0.6205,"color":"#fff"},{"offset":0.627,"color":"#fff"},{"offset":0.6285,"color":"#aaa"},{"offset":0.63,"color":"#fff"},{"offset":0.6365,"color":"#fff"},{"offset":0.638,"color":"#aaa"},{"offset":0.6395,"color":"#fff"},{"offset":0.646,"color":"#fff"},{"offset":0.6475,"color":"#aaa"},{"offset":0.649,"color":"#fff"},{"offset":0.6555,"color":"#fff"},{"offset":0.657,"color":"#aaa"},{"offset":0.6585,"color":"#fff"},{"offset":0.665,"color":"#fff"},{"offset":0.6665,"color":"#aaa"},{"offset":0.668,"color":"#fff"},{"offset":0.6745,"color":"#fff"},{"offset":0.676,"color":"#aaa"},{"offset":0.6775,"color":"#fff"},{"offset":0.684,"color":"#fff"},{"offset":0.6855,"color":"#aaa"},{"offset":0.687,"color":"#fff"},{"offset":0.6935,"color":"#fff"},{"offset":0.695,"color":"#aaa"},{"offset":0.6965,"color":"#fff"},{"offset":0.703,"color":"#fff"},{"offset":0.7045,"color":"#aaa"},{"offset":0.706,"color":"#fff"},{"offset":0.7125,"color":"#fff"},{"offset":0.714,"color":"#aaa"},{"offset":0.7155,"color":"#fff"},{"offset":0.722,"color":"#fff"},{"offset":0.7235,"color":"#aaa"},{"offset":0.725,"color":"#fff"},{"offset":0.7315,"color":"#fff"},{"offset":0.733,"color":"#aaa"},{"offset":0.7345,"color":"#fff"},{"offset":0.741,"color":"#fff"},{"offset":0.7425,"color":"#aaa"},{"offset":0.744,"color":"#fff"},{"offset":0.7505,"color":"#fff"},{"offset":0.752,"color":"#aaa"},{"offset":0.7535,"color":"#fff"},{"offset":0.76,"color":"#fff"},{"offset":0.7615,"color":"#aaa"},{"offset":0.763,"color":"#fff"},{"offset":0.7695,"color":"#fff"},{"offset":0.771,"color":"#aaa"},{"offset":0.7725,"color":"#fff"},{"offset":0.779,"color":"#fff"},{"offset":0.7805,"color":"#aaa"},{"offset":0.782,"color":"#fff"},{"offset":0.7885,"color":"#fff"},{"offset":0.79,"color":"#aaa"},{"offset":0.7915,"color":"#fff"},{"offset":0.798,"color":"#fff"},{"offset":0.7995,"color":"#aaa"},{"offset":0.801,"color":"#fff"},{"offset":0.8075,"color":"#fff"},{"offset":0.809,"color":"#aaa"},{"offset":0.8105,"color":"#fff"},{"offset":0.817,"color":"#fff"},{"offset":0.8185,"color":"#aaa"},{"offset":0.82,"color":"#fff"},{"offset":0.8265,"color":"#fff"},{"offset":0.828,"color":"#aaa"},{"offset":0.8295,"color":"#fff"},{"offset":0.836,"color":"#fff"},{"offset":0.8375,"color":"#aaa"},{"offset":0.839,"color":"#fff"},{"offset":0.8455,"color":"#fff"},{"offset":0.847,"color":"#aaa"},{"offset":0.8485,"color":"#fff"},{"offset":0.855,"color":"#fff"},{"offset":0.8565,"color":"#aaa"},{"offset":0.858,"color":"#fff"},{"offset":0.8645,"color":"#fff"},{"offset":0.866,"color":"#aaa"},{"offset":0.8675,"color":"#fff"},{"offset":0.874,"color":"#fff"},{"offset":0.8755,"color":"#aaa"},{"offset":0.877,"color":"#fff"},{"offset":0.8835,"color":"#fff"},{"offset":0.885,"color":"#aaa"},{"offset":0.8865,"color":"#fff"},{"offset":0.893,"color":"#fff"},{"offset":0.8945,"color":"#aaa"},{"offset":0.896,"color":"#fff"},{"offset":0.9025,"color":"#fff"},{"offset":0.904,"color":"#aaa"},{"offset":0.9055,"color":"#fff"},{"offset":0.912,"color":"#fff"},{"offset":0.9135,"color":"#aaa"},{"offset":0.915,"color":"#fff"},{"offset":0.9215,"color":"#fff"},{"offset":0.923,"color":"#aaa"},{"offset":0.9245,"color":"#fff"},{"offset":0.931,"color":"#fff"},{"offset":0.9325,"color":"#aaa"},{"offset":0.934,"color":"#fff"},{"offset":0.9405,"color":"#fff"},{"offset":0.942,"color":"#aaa"},{"offset":0.9435,"color":"#fff"},{"offset":0.95,"color":"#fff"},{"offset":0.9515,"color":"#aaa"},{"offset":0.953,"color":"#fff"},{"offset":0.9595,"color":"#fff"},{"offset":0.961,"color":"#aaa"},{"offset":0.9625,"color":"#fff"},{"offset":0.969,"color":"#fff"},{"offset":0.9705,"color":"#aaa"},{"offset":0.972,"color":"#fff"},{"offset":0.9785,"color":"#fff"},{"offset":0.98,"color":"#aaa"},{"offset":0.9815,"color":"#fff"},{"offset":0.988,"color":"#fff"},{"offset":0.9895,"color":"#aaa"},{"offset":0.991,"color":"#fff"}]}},
 "encoding":{
  "x":{"field":"f1","type":"quantitative","scale":{"type":"log","domain":[2e7,1.858e10],"nice":false},
   "axis":{"orient":"bottom","values":[3e7,4e7,5e7,6e7,7e7,8e7,9e7,1e8,2e8,3e8,4e8,5e8,6e8,7e8,8e8,9e8,1e9,2e9,3e9,4e9,5e9,6e9,7e9,8e9,9e9,1e10],
    "labelExpr":"datum.value==1e8?'100M':datum.value==1e9?'1G':datum.value==1e10?'10G':''",
    "tickSize":{"condition":{"test":"datum.value==1e8||datum.value==1e9||datum.value==1e10","value":-7},"value":-4},
    "title":"frequency (Hz)","grid":false,"zindex":1,"domainColor":"#000","domainWidth":1.5,"tickColor":"#000","tickWidth":1.2,
    "labelFontSize":19,"labelColor":"#000","labelPadding":13,"labelOverlap":false,"labelFlush":false,"titleFontSize":20,"titleFontWeight":"normal","titleColor":"#000","titlePadding":8}},
  "x2":{"field":"f2"},
  "y":{"field":"v1","type":"quantitative","scale":{"domain":[0,115],"nice":false,"zero":false},
   "axis":{"orient":"left","values":[0,5,10,15,20,25,30,35,40,45,50,55,60,65,70,75,80,85,90,95,100,105,110],
    "labelExpr":"datum.value%10==0?datum.label:''",
    "tickSize":{"condition":{"test":"datum.value%10==0","value":-7},"value":-4},
    "title":"field strength (dBμV/m)","grid":false,"zindex":1,"domainColor":"#000","domainWidth":1.5,"tickColor":"#000","tickWidth":1.2,
    "labelFontSize":20,"labelColor":"#000","labelPadding":8,"labelOverlap":false,"labelFlush":false,"titleFontSize":22,"titleFontWeight":"normal","titleColor":"#000","titlePadding":9}},
  "y2":{"field":"v2"}
 }},
{"data":{"name":"regions"},"transform":[{"filter":"datum.name=='high'"}],
 "mark":{"type":"rect","clip":true,"fill":{"gradient":"linear","x1":0,"y1":0,"x2":0.8293,"y2":1.1262,"stops":[{"offset":0,"color":"#fff"},{"offset":0.0018,"color":"#aaa"},{"offset":0.0036,"color":"#fff"},{"offset":0.0115,"color":"#fff"},{"offset":0.0133,"color":"#aaa"},{"offset":0.0151,"color":"#fff"},{"offset":0.023,"color":"#fff"},{"offset":0.0248,"color":"#aaa"},{"offset":0.0266,"color":"#fff"},{"offset":0.0345,"color":"#fff"},{"offset":0.0363,"color":"#aaa"},{"offset":0.0381,"color":"#fff"},{"offset":0.046,"color":"#fff"},{"offset":0.0478,"color":"#aaa"},{"offset":0.0496,"color":"#fff"},{"offset":0.0575,"color":"#fff"},{"offset":0.0593,"color":"#aaa"},{"offset":0.0611,"color":"#fff"},{"offset":0.069,"color":"#fff"},{"offset":0.0708,"color":"#aaa"},{"offset":0.0726,"color":"#fff"},{"offset":0.0805,"color":"#fff"},{"offset":0.0823,"color":"#aaa"},{"offset":0.0841,"color":"#fff"},{"offset":0.092,"color":"#fff"},{"offset":0.0938,"color":"#aaa"},{"offset":0.0956,"color":"#fff"},{"offset":0.1035,"color":"#fff"},{"offset":0.1053,"color":"#aaa"},{"offset":0.1071,"color":"#fff"},{"offset":0.115,"color":"#fff"},{"offset":0.1168,"color":"#aaa"},{"offset":0.1186,"color":"#fff"},{"offset":0.1265,"color":"#fff"},{"offset":0.1283,"color":"#aaa"},{"offset":0.1301,"color":"#fff"},{"offset":0.138,"color":"#fff"},{"offset":0.1398,"color":"#aaa"},{"offset":0.1416,"color":"#fff"},{"offset":0.1495,"color":"#fff"},{"offset":0.1513,"color":"#aaa"},{"offset":0.1531,"color":"#fff"},{"offset":0.161,"color":"#fff"},{"offset":0.1628,"color":"#aaa"},{"offset":0.1646,"color":"#fff"},{"offset":0.1725,"color":"#fff"},{"offset":0.1743,"color":"#aaa"},{"offset":0.1761,"color":"#fff"},{"offset":0.184,"color":"#fff"},{"offset":0.1858,"color":"#aaa"},{"offset":0.1876,"color":"#fff"},{"offset":0.1955,"color":"#fff"},{"offset":0.1973,"color":"#aaa"},{"offset":0.1991,"color":"#fff"},{"offset":0.207,"color":"#fff"},{"offset":0.2088,"color":"#aaa"},{"offset":0.2106,"color":"#fff"},{"offset":0.2185,"color":"#fff"},{"offset":0.2203,"color":"#aaa"},{"offset":0.2221,"color":"#fff"},{"offset":0.23,"color":"#fff"},{"offset":0.2318,"color":"#aaa"},{"offset":0.2336,"color":"#fff"},{"offset":0.2415,"color":"#fff"},{"offset":0.2433,"color":"#aaa"},{"offset":0.2451,"color":"#fff"},{"offset":0.253,"color":"#fff"},{"offset":0.2548,"color":"#aaa"},{"offset":0.2566,"color":"#fff"},{"offset":0.2645,"color":"#fff"},{"offset":0.2663,"color":"#aaa"},{"offset":0.2681,"color":"#fff"},{"offset":0.276,"color":"#fff"},{"offset":0.2778,"color":"#aaa"},{"offset":0.2796,"color":"#fff"},{"offset":0.2875,"color":"#fff"},{"offset":0.2893,"color":"#aaa"},{"offset":0.2911,"color":"#fff"},{"offset":0.299,"color":"#fff"},{"offset":0.3008,"color":"#aaa"},{"offset":0.3026,"color":"#fff"},{"offset":0.3105,"color":"#fff"},{"offset":0.3123,"color":"#aaa"},{"offset":0.3141,"color":"#fff"},{"offset":0.322,"color":"#fff"},{"offset":0.3238,"color":"#aaa"},{"offset":0.3256,"color":"#fff"},{"offset":0.3335,"color":"#fff"},{"offset":0.3353,"color":"#aaa"},{"offset":0.3371,"color":"#fff"},{"offset":0.345,"color":"#fff"},{"offset":0.3468,"color":"#aaa"},{"offset":0.3486,"color":"#fff"},{"offset":0.3565,"color":"#fff"},{"offset":0.3583,"color":"#aaa"},{"offset":0.3601,"color":"#fff"},{"offset":0.368,"color":"#fff"},{"offset":0.3698,"color":"#aaa"},{"offset":0.3716,"color":"#fff"},{"offset":0.3795,"color":"#fff"},{"offset":0.3813,"color":"#aaa"},{"offset":0.3831,"color":"#fff"},{"offset":0.391,"color":"#fff"},{"offset":0.3928,"color":"#aaa"},{"offset":0.3946,"color":"#fff"},{"offset":0.4025,"color":"#fff"},{"offset":0.4043,"color":"#aaa"},{"offset":0.4061,"color":"#fff"},{"offset":0.414,"color":"#fff"},{"offset":0.4158,"color":"#aaa"},{"offset":0.4176,"color":"#fff"},{"offset":0.4255,"color":"#fff"},{"offset":0.4273,"color":"#aaa"},{"offset":0.4291,"color":"#fff"},{"offset":0.437,"color":"#fff"},{"offset":0.4388,"color":"#aaa"},{"offset":0.4406,"color":"#fff"},{"offset":0.4485,"color":"#fff"},{"offset":0.4503,"color":"#aaa"},{"offset":0.4521,"color":"#fff"},{"offset":0.46,"color":"#fff"},{"offset":0.4618,"color":"#aaa"},{"offset":0.4636,"color":"#fff"},{"offset":0.4715,"color":"#fff"},{"offset":0.4733,"color":"#aaa"},{"offset":0.4751,"color":"#fff"},{"offset":0.483,"color":"#fff"},{"offset":0.4848,"color":"#aaa"},{"offset":0.4866,"color":"#fff"},{"offset":0.4945,"color":"#fff"},{"offset":0.4963,"color":"#aaa"},{"offset":0.4981,"color":"#fff"},{"offset":0.506,"color":"#fff"},{"offset":0.5078,"color":"#aaa"},{"offset":0.5096,"color":"#fff"},{"offset":0.5175,"color":"#fff"},{"offset":0.5193,"color":"#aaa"},{"offset":0.5211,"color":"#fff"},{"offset":0.529,"color":"#fff"},{"offset":0.5308,"color":"#aaa"},{"offset":0.5326,"color":"#fff"},{"offset":0.5405,"color":"#fff"},{"offset":0.5423,"color":"#aaa"},{"offset":0.5441,"color":"#fff"},{"offset":0.552,"color":"#fff"},{"offset":0.5538,"color":"#aaa"},{"offset":0.5556,"color":"#fff"},{"offset":0.5635,"color":"#fff"},{"offset":0.5653,"color":"#aaa"},{"offset":0.5671,"color":"#fff"},{"offset":0.575,"color":"#fff"},{"offset":0.5768,"color":"#aaa"},{"offset":0.5786,"color":"#fff"},{"offset":0.5865,"color":"#fff"},{"offset":0.5883,"color":"#aaa"},{"offset":0.5901,"color":"#fff"},{"offset":0.598,"color":"#fff"},{"offset":0.5998,"color":"#aaa"},{"offset":0.6016,"color":"#fff"},{"offset":0.6095,"color":"#fff"},{"offset":0.6113,"color":"#aaa"},{"offset":0.6131,"color":"#fff"},{"offset":0.621,"color":"#fff"},{"offset":0.6228,"color":"#aaa"},{"offset":0.6246,"color":"#fff"},{"offset":0.6325,"color":"#fff"},{"offset":0.6343,"color":"#aaa"},{"offset":0.6361,"color":"#fff"},{"offset":0.644,"color":"#fff"},{"offset":0.6458,"color":"#aaa"},{"offset":0.6476,"color":"#fff"},{"offset":0.6555,"color":"#fff"},{"offset":0.6573,"color":"#aaa"},{"offset":0.6591,"color":"#fff"},{"offset":0.667,"color":"#fff"},{"offset":0.6688,"color":"#aaa"},{"offset":0.6706,"color":"#fff"},{"offset":0.6785,"color":"#fff"},{"offset":0.6803,"color":"#aaa"},{"offset":0.6821,"color":"#fff"},{"offset":0.69,"color":"#fff"},{"offset":0.6918,"color":"#aaa"},{"offset":0.6936,"color":"#fff"},{"offset":0.7015,"color":"#fff"},{"offset":0.7033,"color":"#aaa"},{"offset":0.7051,"color":"#fff"},{"offset":0.713,"color":"#fff"},{"offset":0.7148,"color":"#aaa"},{"offset":0.7166,"color":"#fff"},{"offset":0.7245,"color":"#fff"},{"offset":0.7263,"color":"#aaa"},{"offset":0.7281,"color":"#fff"},{"offset":0.736,"color":"#fff"},{"offset":0.7378,"color":"#aaa"},{"offset":0.7396,"color":"#fff"},{"offset":0.7475,"color":"#fff"},{"offset":0.7493,"color":"#aaa"},{"offset":0.7511,"color":"#fff"},{"offset":0.759,"color":"#fff"},{"offset":0.7608,"color":"#aaa"},{"offset":0.7626,"color":"#fff"},{"offset":0.7705,"color":"#fff"},{"offset":0.7723,"color":"#aaa"},{"offset":0.7741,"color":"#fff"},{"offset":0.782,"color":"#fff"},{"offset":0.7838,"color":"#aaa"},{"offset":0.7856,"color":"#fff"},{"offset":0.7935,"color":"#fff"},{"offset":0.7953,"color":"#aaa"},{"offset":0.7971,"color":"#fff"},{"offset":0.805,"color":"#fff"},{"offset":0.8068,"color":"#aaa"},{"offset":0.8086,"color":"#fff"},{"offset":0.8165,"color":"#fff"},{"offset":0.8183,"color":"#aaa"},{"offset":0.8201,"color":"#fff"},{"offset":0.828,"color":"#fff"},{"offset":0.8298,"color":"#aaa"},{"offset":0.8316,"color":"#fff"},{"offset":0.8395,"color":"#fff"},{"offset":0.8413,"color":"#aaa"},{"offset":0.8431,"color":"#fff"},{"offset":0.851,"color":"#fff"},{"offset":0.8528,"color":"#aaa"},{"offset":0.8546,"color":"#fff"},{"offset":0.8625,"color":"#fff"},{"offset":0.8643,"color":"#aaa"},{"offset":0.8661,"color":"#fff"},{"offset":0.874,"color":"#fff"},{"offset":0.8758,"color":"#aaa"},{"offset":0.8776,"color":"#fff"},{"offset":0.8855,"color":"#fff"},{"offset":0.8873,"color":"#aaa"},{"offset":0.8891,"color":"#fff"},{"offset":0.897,"color":"#fff"},{"offset":0.8988,"color":"#aaa"},{"offset":0.9006,"color":"#fff"},{"offset":0.9085,"color":"#fff"},{"offset":0.9103,"color":"#aaa"},{"offset":0.9121,"color":"#fff"},{"offset":0.92,"color":"#fff"},{"offset":0.9218,"color":"#aaa"},{"offset":0.9236,"color":"#fff"},{"offset":0.9315,"color":"#fff"},{"offset":0.9333,"color":"#aaa"},{"offset":0.9351,"color":"#fff"},{"offset":0.943,"color":"#fff"},{"offset":0.9448,"color":"#aaa"},{"offset":0.9466,"color":"#fff"},{"offset":0.9545,"color":"#fff"},{"offset":0.9563,"color":"#aaa"},{"offset":0.9581,"color":"#fff"},{"offset":0.966,"color":"#fff"},{"offset":0.9678,"color":"#aaa"},{"offset":0.9696,"color":"#fff"},{"offset":0.9775,"color":"#fff"},{"offset":0.9793,"color":"#aaa"},{"offset":0.9811,"color":"#fff"},{"offset":0.989,"color":"#fff"},{"offset":0.9908,"color":"#aaa"},{"offset":0.9926,"color":"#fff"}]}},
 "encoding":{
  "x":{"field":"f1","type":"quantitative",
   "axis":{"orient":"top","values":[3e7,4e7,5e7,6e7,7e7,8e7,9e7,1e8,2e8,3e8,4e8,5e8,6e8,7e8,8e8,9e8,1e9,2e9,3e9,4e9,5e9,6e9,7e9,8e9,9e9,1e10],
    "labels":false,"title":null,"grid":false,"zindex":1,"domainColor":"#000","domainWidth":1.5,"tickColor":"#000","tickWidth":1.2,
    "tickSize":{"condition":{"test":"datum.value==1e8||datum.value==1e9||datum.value==1e10","value":-7},"value":-4}}},
  "x2":{"field":"f2"},
  "y":{"field":"v1","type":"quantitative","axis":null},
  "y2":{"field":"v2"}
 }},
{"data":{"name":"bounds"},"mark":{"type":"rule","color":"#bbbbbb","strokeWidth":1.8,"strokeDash":[8,5]},
 "encoding":{"x":{"field":"f","type":"quantitative","axis":null}}},
{"data":{"name":"bounds"},"mark":{"type":"text","angle":270,"align":"right","baseline":"top","dx":-3,"dy":3,"fontSize":21,"color":"#000"},
 "encoding":{"x":{"field":"f","type":"quantitative","axis":null},"y":{"datum":115,"type":"quantitative","axis":null},"text":{"field":"label"}}},
{"data":{"name":"rvcNo"},"mark":{"type":"line","strokeWidth":1.6,"clip":true},
 "encoding":{"x":{"field":"f","type":"quantitative","axis":null},"y":{"field":"v","type":"quantitative","axis":null},"order":{"value":null},
  "color":{"datum":"RVC noise","type":"nominal","scale":{"domain":["SAC emission","SAC noise","RVC emission","RVC noise"],"range":["#0c22b8","#cc0c14","#ff9c9c","#8d9eff"]},
   "legend":{"orient":"none","legendX":8,"legendY":5,"columns":2,"symbolType":"stroke","symbolSize":1936,"symbolStrokeWidth":2,"labelFontSize":21,"labelColor":"#000","labelLimit":300,"padding":3,"strokeColor":"#000","fillColor":"#fff","rowPadding":9,"columnPadding":6,"labelOffset":6,"title":null}}}},
{"data":{"name":"rvcEm"},"mark":{"type":"line","strokeWidth":1.6,"clip":true},
 "encoding":{"x":{"field":"f","type":"quantitative","axis":null},"y":{"field":"v","type":"quantitative","axis":null},"order":{"value":null},"color":{"datum":"RVC emission","type":"nominal"}}},
{"data":{"name":"sacNo"},"mark":{"type":"line","strokeWidth":1.6,"clip":true},
 "encoding":{"x":{"field":"f","type":"quantitative","axis":null},"y":{"field":"v","type":"quantitative","axis":null},"order":{"value":null},"color":{"datum":"SAC noise","type":"nominal"}}},
{"data":{"name":"sacEm"},"mark":{"type":"line","strokeWidth":1.6,"clip":true},
 "encoding":{"x":{"field":"f","type":"quantitative","axis":null},"y":{"field":"v","type":"quantitative","axis":null},"order":{"value":null},"color":{"datum":"SAC emission","type":"nominal"}}},
{"data":{"name":"arrows"},"mark":{"type":"rule","color":"#000","strokeWidth":1.3},
 "encoding":{"x":{"field":"f","type":"quantitative","axis":null},"y":{"field":"top","type":"quantitative","axis":null},"y2":{"field":"bot"}}},
{"data":{"name":"arrows"},"mark":{"type":"point","shape":"M-0.5,-2L0.5,-2L0,0Z","filled":true,"color":"#000","size":110,"opacity":1},
 "encoding":{"x":{"field":"f","type":"quantitative","axis":null},"y":{"field":"tip","type":"quantitative","axis":null}}}
],
"resolve":{"axis":{"x":"independent","y":"independent"}}
}
